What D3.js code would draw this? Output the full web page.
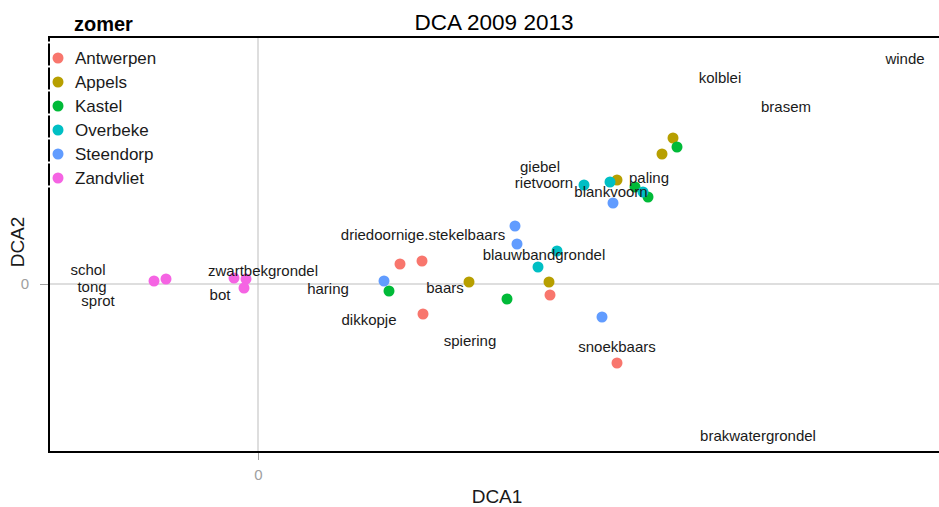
<!DOCTYPE html>
<html><head><meta charset="utf-8">
<script src="https://cdn.jsdelivr.net/npm/d3@7"></script>
<style>body{margin:0;background:#fff}svg{display:block;font-family:"Liberation Sans",Arial,sans-serif}</style>
</head><body><svg id="c" width="939" height="507"></svg>
<script>
const sites = ["Antwerpen","Appels","Kastel","Overbeke","Steendorp","Zandvliet"];
const siteColors = ["#F8766D","#B79F00","#00BA38","#00BFC4","#619CFF","#F564E3"];
const siteDCA1 = {
  Antwerpen:[1.42,1.64,1.65,2.92,3.59],
  Appels:[2.11,2.91,3.59,4.04,4.15],
  Kastel:[1.31,2.49,3.77,3.90,4.19],
  Overbeke:[2.80,2.99,3.26,3.52,3.85],
  Steendorp:[1.26,2.57,2.59,3.55,3.44],
  Zandvliet:[-1.04,-0.92,-0.24,-0.12,-0.14]
};
const siteDCA2 = {
  Antwerpen:[0.20,0.23,-0.30,-0.11,-0.79],
  Appels:[0.02,0.02,1.04,1.30,1.46],
  Kastel:[-0.07,-0.15,0.97,0.87,1.37],
  Overbeke:[0.17,0.33,0.99,1.02,0.92],
  Steendorp:[0.03,0.58,0.40,0.81,-0.33],
  Zandvliet:[0.03,0.05,0.06,0.05,-0.04]
};
const species = ["winde","kolblei","brasem","giebel","rietvoorn","blankvoorn","paling","driedoornige.stekelbaars","blauwbandgrondel","zwartbekgrondel","schol","tong","sprot","bot","haring","baars","dikkopje","spiering","snoekbaars","brakwatergrondel"];
const speciesDCA1 = [6.47,4.62,5.28,2.82,2.86,3.53,3.91,1.65,2.86,0.05,-1.70,-1.66,-1.60,-0.38,0.70,1.87,1.11,2.12,3.59,5.00];
const speciesDCA2 = [2.26,2.07,1.78,1.18,1.02,0.93,1.07,0.50,0.30,0.14,0.15,-0.02,-0.16,-0.10,-0.04,-0.03,-0.35,-0.56,-0.62,-1.51];
const xTicks = [0], yTicks = [0];

const svg = d3.select("#c");
const L = 49, R = 941, T = 37, B = 452;
const x = d3.scaleLinear().domain([-2.09, 6.83]).range([L, R]);
const y = d3.scaleLinear().domain([-1.68, 2.47]).range([B, T]);

// zero lines
svg.append("line").attr("x1", x(0)).attr("x2", x(0)).attr("y1", T).attr("y2", B).attr("stroke", "#bdbdbd").attr("stroke-width", 1);
svg.append("line").attr("x1", L).attr("x2", R).attr("y1", y(0)).attr("y2", y(0)).attr("stroke", "#bdbdbd").attr("stroke-width", 1);

// axes
const xa = svg.append("g").attr("transform", `translate(0,${B})`).call(d3.axisBottom(x).tickValues(xTicks).tickFormat(d3.format("d")).tickSize(8).tickPadding(9));
const ya = svg.append("g").attr("transform", `translate(${L},0)`).call(d3.axisLeft(y).tickValues(yTicks).tickFormat(d3.format("d")).tickSize(9).tickPadding(11));
[xa, ya].forEach(a => {
  a.select(".domain").remove();
  a.selectAll("line").attr("stroke", "#a0a0a0");
  a.selectAll("text").attr("fill", "#a0a0a0").style("font-size", "15px").style("font-family", "Liberation Sans, Arial, sans-serif");
});

// panel border lines
svg.append("line").attr("x1", L - 1).attr("x2", R).attr("y1", T).attr("y2", T).attr("stroke", "#000").attr("stroke-width", 2);
svg.append("line").attr("x1", L - 1).attr("x2", R).attr("y1", B).attr("y2", B).attr("stroke", "#000").attr("stroke-width", 2);
svg.append("line").attr("x1", L).attr("x2", L).attr("y1", T).attr("y2", B + 1).attr("stroke", "#000").attr("stroke-width", 2);

// points
const pts = [];
sites.forEach((s, i) => siteDCA1[s].forEach((v, j) => pts.push({s, c: siteColors[i], a: v, b: siteDCA2[s][j]})));
svg.append("g").selectAll("circle").data(pts).join("circle")
  .attr("cx", d => x(d.a)).attr("cy", d => y(d.b)).attr("r", 5.5).attr("fill", d => d.c);

// species labels
svg.append("g").selectAll("text").data(species).join("text")
  .attr("x", (d, i) => x(speciesDCA1[i])).attr("y", (d, i) => y(speciesDCA2[i]))
  .attr("text-anchor", "middle").attr("dominant-baseline", "central")
  .style("font-size", "15px").attr("fill", "#1a1a1a").text(d => d);

// legend
const lg = svg.append("g");
sites.forEach((s, i) => {
  const cy = 58 + i * 24;
  lg.append("line").attr("x1", L - 2).attr("x2", L + 2).attr("y1", cy - 15.5).attr("y2", cy - 15.5).attr("stroke", "#fff").attr("stroke-width", 2);
  lg.append("circle").attr("cx", 58).attr("cy", cy).attr("r", 5.5).attr("fill", siteColors[i]);
  lg.append("text").attr("x", 75).attr("y", cy).attr("dominant-baseline", "central").style("font-size", "17px").attr("fill", "#1a1a1a").text(s);
});
lg.append("line").attr("x1", L - 2).attr("x2", L + 2).attr("y1", 58 + 6 * 24 - 15.5).attr("y2", 58 + 6 * 24 - 15.5).attr("stroke", "#fff").attr("stroke-width", 2);

// titles
svg.append("text").attr("x", 494).attr("y", 30).attr("text-anchor", "middle").style("font-size", "22.5px").attr("fill", "#000").text("DCA 2009 2013");
svg.append("text").attr("x", 74).attr("y", 31).style("font-size", "20px").style("font-weight", "bold").attr("fill", "#000").text("zomer");
svg.append("text").attr("x", 497).attr("y", 503).attr("text-anchor", "middle").style("font-size", "19px").attr("fill", "#1a1a1a").text("DCA1");
svg.append("text").attr("transform", "translate(24,242) rotate(-90)").attr("text-anchor", "middle").style("font-size", "19px").attr("fill", "#1a1a1a").text("DCA2");
</script></body></html>
